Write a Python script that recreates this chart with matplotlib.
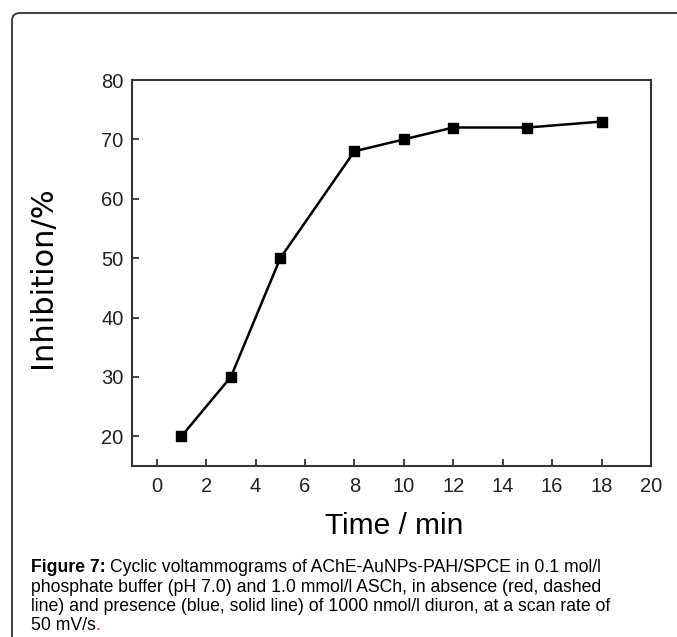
import matplotlib
matplotlib.use("Agg")
import matplotlib.pyplot as plt
from matplotlib.patches import FancyBboxPatch

time_min = [1, 3, 5, 8, 10, 12, 15, 18]
inhibition = [20, 30, 50, 68, 70, 72, 72, 73]
x_ticks = [0, 2, 4, 6, 8, 10, 12, 14, 16, 18, 20]
y_ticks = [20, 30, 40, 50, 60, 70, 80]

W, H = 677, 637
plt.rcParams['font.family'] = ['Liberation Sans', 'DejaVu Sans']
fig = plt.figure(figsize=(W / 100, H / 100), dpi=100)

# rounded frame around the figure (cut off right/bottom)
frame = FancyBboxPatch((12 / W, -0.2), 1.2, 1 - 13 / H + 0.2,
                       boxstyle="round,pad=0,rounding_size=0.012",
                       transform=fig.transFigure, fill=False,
                       edgecolor='#333333', linewidth=1.3, clip_on=False)
fig.patches.append(frame)

ax = fig.add_axes([132 / W, 1 - 466 / H, (651 - 132) / W, (466 - 80) / H])
ax.plot(time_min, inhibition, color='black', linewidth=1.8,
        marker='s', markersize=6.5, markerfacecolor='black')
ax.set_xlim(-1, 20)
ax.set_ylim(15, 80)
ax.set_xticks(x_ticks)
ax.set_yticks(y_ticks)
ax.tick_params(direction='in', length=5, width=1.2, labelsize=14.5,
               colors='#222222', pad=8)
ax.tick_params(axis='y', pad=6)
for s in ax.spines.values():
    s.set_linewidth(1.5)
    s.set_color('#333333')
ax.set_xlabel('Time / min', fontsize=21.5)
ax.set_ylabel('Inhibition/%', fontsize=22, family=['DejaVu Sans'])
ax.xaxis.set_label_coords(0.505, -0.118)
ax.yaxis.set_label_coords(-0.145, 0.49)

# caption
cap_fs = 12.7
x0 = 31 / W
line_h = 19.3 / H
y1 = 1 - 568 / H
fig.canvas.draw()
r = fig.canvas.get_renderer()
t = fig.text(x0, y1, 'Figure 7:', fontsize=cap_fs, fontweight='bold', va='center')
bb = t.get_window_extent(r)
fig.text(bb.x1 / W + 4 / W, y1,
         'Cyclic voltammograms of AChE-AuNPs-PAH/SPCE in 0.1 mol/l',
         fontsize=cap_fs, va='center')
lines = ['phosphate buffer (pH 7.0) and 1.0 mmol/l ASCh, in absence (red, dashed',
         'line) and presence (blue, solid line) of 1000 nmol/l diuron, at a scan rate of']
for i, ln in enumerate(lines):
    fig.text(x0, y1 - (i + 1) * line_h, ln, fontsize=cap_fs, va='center')
t4 = fig.text(x0, y1 - 3 * line_h, '50 mV/s', fontsize=cap_fs, va='center')
bb4 = t4.get_window_extent(r)
fig.text(bb4.x1 / W, y1 - 3 * line_h, '.', fontsize=cap_fs, va='center', color='#dd2222')

fig.savefig('out.png', dpi=100)
